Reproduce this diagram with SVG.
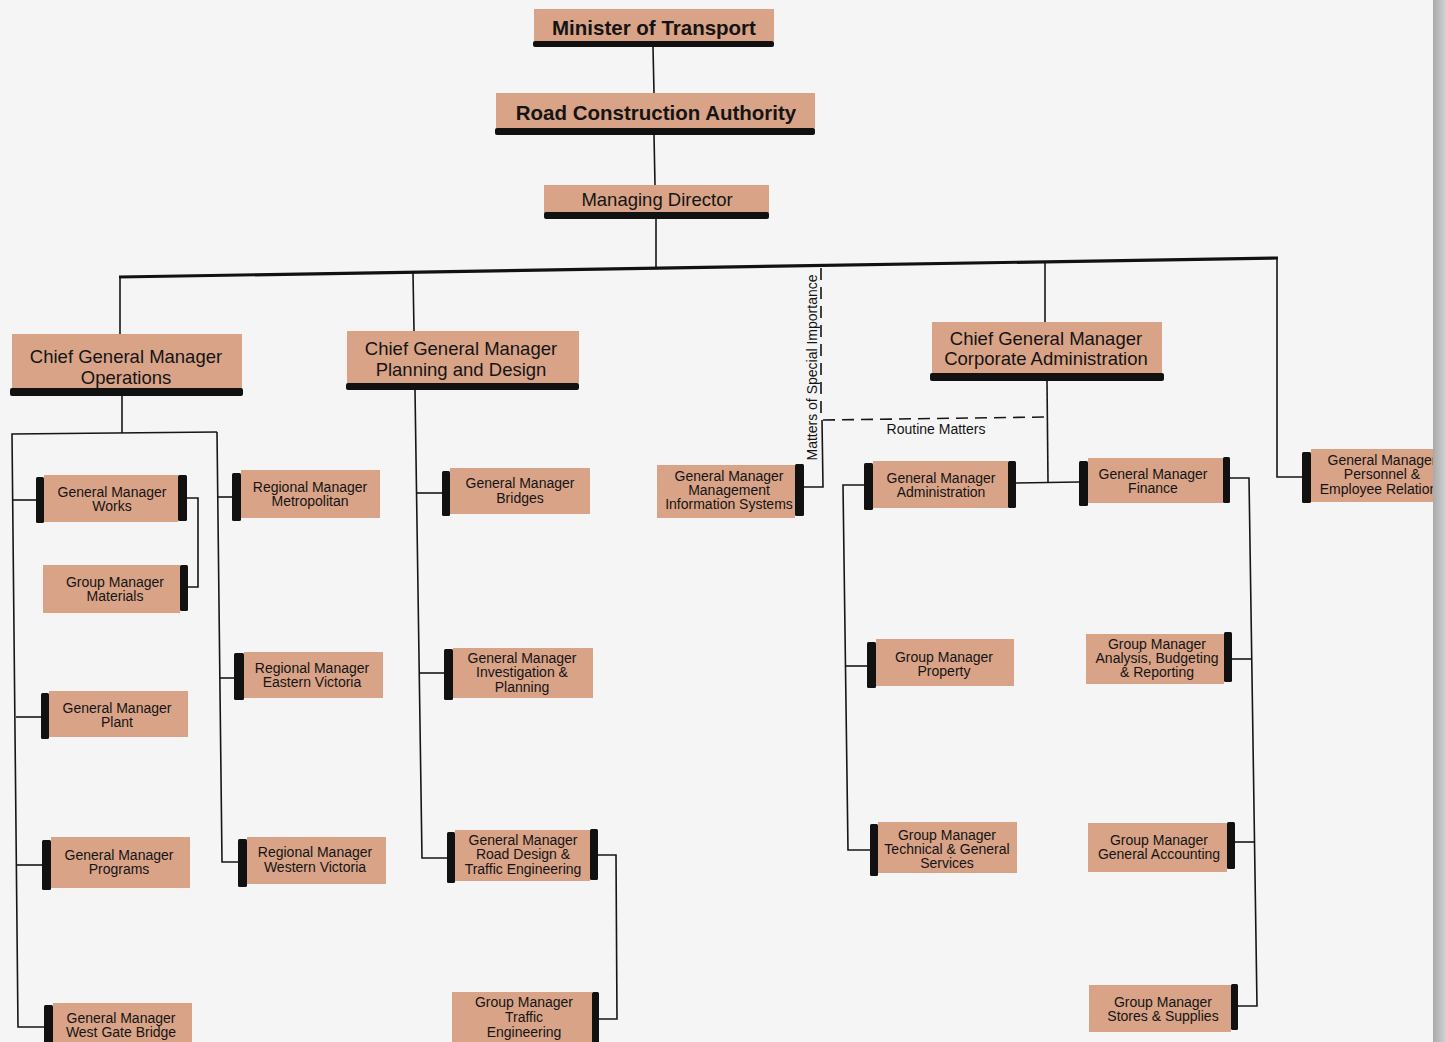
<svg xmlns="http://www.w3.org/2000/svg" width="1445" height="1042" viewBox="0 0 1445 1042">
<style>
.box{fill:#d9a387}
.bar{fill:#111}
.t{font-family:"Liberation Sans",Arial,sans-serif;fill:#141414;text-anchor:middle}
.s{font-size:14px}
.m{font-size:18.5px}
.b{font-size:20.5px;font-weight:bold}
.ln{fill:none;stroke:#161616;stroke-width:1.6}
.bus{fill:none;stroke:#111;stroke-width:3.2}
.dash{fill:none;stroke:#161616;stroke-width:1.6;stroke-dasharray:12 7}
</style>
<defs>
<linearGradient id="edge" x1="0" y1="0" x2="1" y2="0">
<stop offset="0" stop-color="#a9a9a9"/>
<stop offset="1" stop-color="#cfcfcf"/>
</linearGradient>
<clipPath id="pageclip"><rect x="0" y="0" width="1433" height="1042"/></clipPath>
</defs>
<rect x="0" y="0" width="1445" height="1042" fill="#f5f5f5"/>

<g id="connectors">
<path class="ln" d="M653,47 L654,93"/>
<path class="ln" d="M654,135 L655,185"/>
<path class="ln" d="M656,219 L656,267"/>
<path class="bus" d="M119,277 L1278,258"/>
<path class="ln" d="M120,277 L120,334"/>
<path class="ln" d="M413,273 L414,331"/>
<path class="ln" d="M1045,262 L1045,322"/>
<path class="ln" d="M1277,258 L1277,477 L1302,477"/>
<path class="ln" d="M122,396 L122,433"/>
<path class="ln" d="M217,432 L12,434 L18,1027 L44,1027"/>
<path class="ln" d="M217,432 L222,862 L238,862"/>
<path class="ln" d="M12.5,500 L36,500"/>
<path class="ln" d="M16,717 L41,717"/>
<path class="ln" d="M17,865 L42,865"/>
<path class="ln" d="M217.6,497 L232,497"/>
<path class="ln" d="M220,678 L234,678"/>
<path class="ln" d="M187,498 L198,498 L198,587 L188,587"/>
<path class="ln" d="M415,390 L422,858 L447,858"/>
<path class="ln" d="M417,493 L442,493"/>
<path class="ln" d="M420,673 L444,673"/>
<path class="ln" d="M598,855 L616,855 L617,1019 L599,1019"/>
<path class="ln" d="M804,487 L823,487 L822,420"/>
<path class="dash" d="M821,268 L821,420"/>
<path class="dash" d="M823,420 L1047,417"/>
<path class="ln" d="M1047,381 L1048,482"/>
<path class="ln" d="M1016,483 L1079,482"/>
<path class="ln" d="M864,485 L843,485 L848,850 L870,850"/>
<path class="ln" d="M846,666 L867,666"/>
<path class="ln" d="M1229,478 L1249,478 L1257,1006 L1238,1006"/>
<path class="ln" d="M1232,659 L1252,659"/>
<path class="ln" d="M1235,842 L1255,842"/>
<text class="t s" transform="translate(817,367.5) rotate(-90)">Matters of Special Importance</text>
<text class="t s" x="936" y="434">Routine Matters</text>
</g>

<g id="minister">
<rect class="box" x="534" y="9" width="240" height="32"/>
<rect class="bar" x="533" y="41" width="241" height="6" rx="2"/>
<text class="t b" x="654" y="35">Minister of Transport</text>
</g>
<g id="rca">
<rect class="box" x="496" y="93" width="319" height="35"/>
<rect class="bar" x="495" y="128" width="320" height="7" rx="2"/>
<text class="t b" x="656" y="120">Road Construction Authority</text>
</g>
<g id="md">
<rect class="box" x="544" y="185" width="225" height="28"/>
<rect class="bar" x="544" y="212" width="225" height="7" rx="2"/>
<text class="t m" x="657" y="206">Managing Director</text>
</g>

<g id="cgm-ops">
<rect class="box" x="12" y="334" width="230" height="54"/>
<rect class="bar" x="10" y="388" width="233" height="8" rx="2"/>
<text class="t m" x="126" y="363">Chief General Manager</text>
<text class="t m" x="126" y="384">Operations</text>
</g>
<g id="cgm-plan">
<rect class="box" x="347" y="331" width="232" height="52"/>
<rect class="bar" x="346" y="383" width="233" height="7" rx="2"/>
<text class="t m" x="461" y="355">Chief General Manager</text>
<text class="t m" x="461" y="376">Planning and Design</text>
</g>
<g id="cgm-corp">
<rect class="box" x="932" y="322" width="230" height="51"/>
<rect class="bar" x="930" y="373" width="234" height="8" rx="2"/>
<text class="t m" x="1046" y="345">Chief General Manager</text>
<text class="t m" x="1046" y="365">Corporate Administration</text>
</g>

<g id="gm-works">
<rect class="box" x="44" y="475" width="134" height="47"/>
<rect class="bar" x="36" y="477" width="8" height="46" rx="1.5"/>
<rect class="bar" x="178" y="475" width="9" height="46" rx="1.5"/>
<text class="t s" x="112" y="497">General Manager</text>
<text class="t s" x="112" y="511">Works</text>
</g>
<g id="gm-materials">
<rect class="box" x="43" y="565" width="137" height="48"/>
<rect class="bar" x="180" y="565" width="8" height="46" rx="1.5"/>
<text class="t s" x="115" y="587">Group Manager</text>
<text class="t s" x="115" y="601">Materials</text>
</g>
<g id="gm-plant">
<rect class="box" x="49" y="691" width="139" height="46"/>
<rect class="bar" x="41" y="693" width="8" height="46" rx="1.5"/>
<text class="t s" x="117" y="713">General Manager</text>
<text class="t s" x="117" y="727">Plant</text>
</g>
<g id="gm-programs">
<rect class="box" x="51" y="837" width="139" height="51"/>
<rect class="bar" x="42" y="840" width="9" height="50" rx="1.5"/>
<text class="t s" x="119" y="860">General Manager</text>
<text class="t s" x="119" y="874">Programs</text>
</g>
<g id="gm-westgate">
<rect class="box" x="53" y="1003" width="139" height="42"/>
<rect class="bar" x="44" y="1005" width="9" height="40" rx="1.5"/>
<text class="t s" x="121" y="1023">General Manager</text>
<text class="t s" x="121" y="1037">West Gate Bridge</text>
</g>
<g id="rm-metro">
<rect class="box" x="241" y="470" width="139" height="48"/>
<rect class="bar" x="232" y="473" width="9" height="48" rx="1.5"/>
<text class="t s" x="310" y="492">Regional Manager</text>
<text class="t s" x="310" y="506">Metropolitan</text>
</g>
<g id="rm-eastern">
<rect class="box" x="244" y="652" width="139" height="46"/>
<rect class="bar" x="234" y="653" width="10" height="47" rx="1.5"/>
<text class="t s" x="312" y="673">Regional Manager</text>
<text class="t s" x="312" y="687">Eastern Victoria</text>
</g>
<g id="rm-western">
<rect class="box" x="247" y="837" width="139" height="47"/>
<rect class="bar" x="238" y="839" width="9" height="48" rx="1.5"/>
<text class="t s" x="315" y="857">Regional Manager</text>
<text class="t s" x="315" y="872">Western Victoria</text>
</g>

<g id="gm-bridges">
<rect class="box" x="450" y="468" width="140" height="46"/>
<rect class="bar" x="442" y="471" width="8" height="45" rx="1.5"/>
<text class="t s" x="520" y="488">General Manager</text>
<text class="t s" x="520" y="503">Bridges</text>
</g>
<g id="gm-mis">
<rect class="box" x="657" y="465" width="138" height="53"/>
<rect class="bar" x="795" y="464" width="9" height="52" rx="1.5"/>
<text class="t s" x="729" y="481">General Manager</text>
<text class="t s" x="729" y="495">Management</text>
<text class="t s" x="729" y="509">Information Systems</text>
</g>
<g id="gm-investigation">
<rect class="box" x="453" y="648" width="140" height="50"/>
<rect class="bar" x="444" y="649" width="9" height="51" rx="1.5"/>
<text class="t s" x="522" y="663">General Manager</text>
<text class="t s" x="522" y="677">Investigation &amp;</text>
<text class="t s" x="522" y="692">Planning</text>
</g>
<g id="gm-roaddesign">
<rect class="box" x="455" y="830" width="135" height="51"/>
<rect class="bar" x="447" y="832" width="8" height="51" rx="1.5"/>
<rect class="bar" x="590" y="829" width="8" height="51" rx="1.5"/>
<text class="t s" x="523" y="845">General Manager</text>
<text class="t s" x="523" y="859">Road Design &amp;</text>
<text class="t s" x="523" y="874">Traffic Engineering</text>
</g>
<g id="gm-traffic">
<rect class="box" x="452" y="992" width="140" height="52"/>
<rect class="bar" x="592" y="992" width="7" height="52" rx="1.5"/>
<text class="t s" x="524" y="1007">Group Manager</text>
<text class="t s" x="524" y="1022">Traffic</text>
<text class="t s" x="524" y="1037">Engineering</text>
</g>

<g id="gm-admin">
<rect class="box" x="873" y="461" width="135" height="47"/>
<rect class="bar" x="864" y="463" width="9" height="47" rx="1.5"/>
<rect class="bar" x="1008" y="461" width="8" height="47" rx="1.5"/>
<text class="t s" x="941" y="483">General Manager</text>
<text class="t s" x="941" y="497">Administration</text>
</g>
<g id="gm-property">
<rect class="box" x="876" y="639" width="138" height="47"/>
<rect class="bar" x="867" y="642" width="9" height="46" rx="1.5"/>
<text class="t s" x="944" y="662">Group Manager</text>
<text class="t s" x="944" y="676">Property</text>
</g>
<g id="gm-technical">
<rect class="box" x="878" y="822" width="139" height="51"/>
<rect class="bar" x="870" y="824" width="8" height="52" rx="1.5"/>
<text class="t s" x="947" y="840">Group Manager</text>
<text class="t s" x="947" y="854">Technical &amp; General</text>
<text class="t s" x="947" y="868">Services</text>
</g>
<g id="gm-finance">
<rect class="box" x="1088" y="458" width="135" height="45"/>
<rect class="bar" x="1079" y="461" width="9" height="45" rx="1.5"/>
<rect class="bar" x="1223" y="457" width="7" height="46" rx="1.5"/>
<text class="t s" x="1153" y="479">General Manager</text>
<text class="t s" x="1153" y="493">Finance</text>
</g>
<g id="gm-analysis">
<rect class="box" x="1086" y="634" width="138" height="50"/>
<rect class="bar" x="1224" y="632" width="8" height="50" rx="1.5"/>
<text class="t s" x="1157" y="649">Group Manager</text>
<text class="t s" x="1157" y="663">Analysis, Budgeting</text>
<text class="t s" x="1157" y="677">&amp; Reporting</text>
</g>
<g id="gm-accounting">
<rect class="box" x="1088" y="823" width="139" height="49"/>
<rect class="bar" x="1227" y="822" width="8" height="47" rx="1.5"/>
<text class="t s" x="1159" y="845">Group Manager</text>
<text class="t s" x="1159" y="859">General Accounting</text>
</g>
<g id="gm-stores">
<rect class="box" x="1089" y="985" width="142" height="47"/>
<rect class="bar" x="1231" y="984" width="7" height="46" rx="1.5"/>
<text class="t s" x="1163" y="1007">Group Manager</text>
<text class="t s" x="1163" y="1021">Stores &amp; Supplies</text>
</g>
<g id="gm-personnel" clip-path="url(#pageclip)">
<rect class="box" x="1311" y="449" width="125" height="53"/>
<rect class="bar" x="1302" y="452" width="9" height="51" rx="1.5"/>
<text class="t s" x="1382" y="465">General Manager</text>
<text class="t s" x="1382" y="479">Personnel &amp;</text>
<text class="t s" x="1382" y="494">Employee Relations</text>
</g>
<rect x="1433" y="0" width="12" height="1042" fill="url(#edge)"/>
</svg>
